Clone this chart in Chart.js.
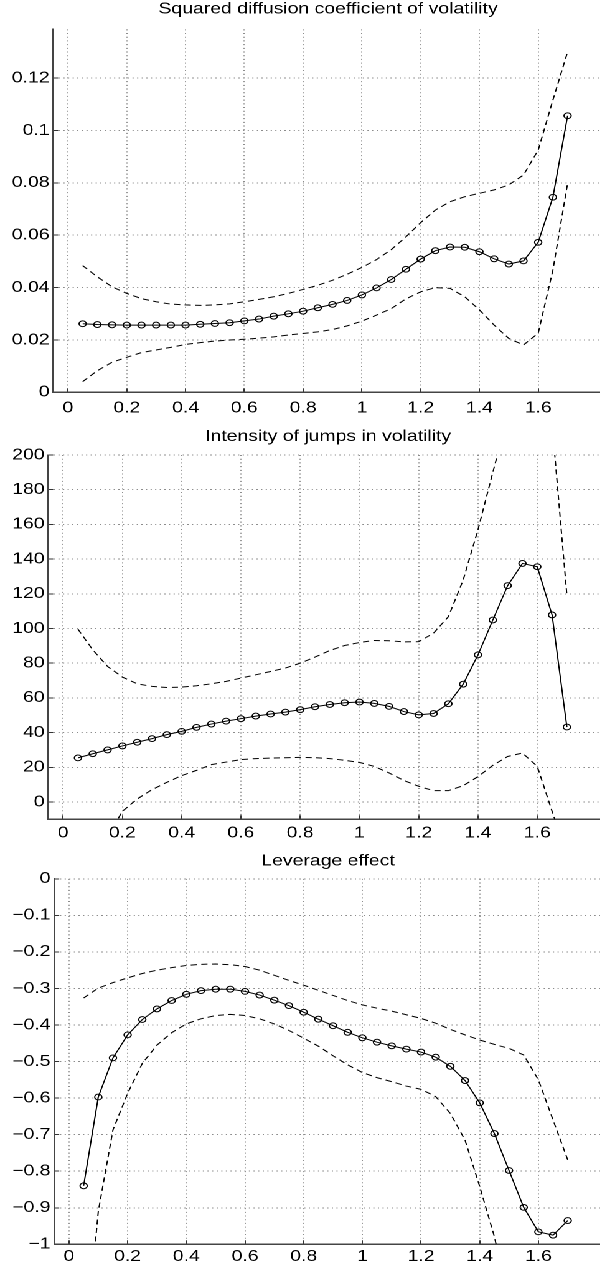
<!DOCTYPE html>
<html>
<head>
<meta charset="utf-8">
<title>Volatility estimates</title>
<script src="https://cdn.jsdelivr.net/npm/chart.js@4"></script>
<style>
body{ margin:0; background:#fff; }
/* the source figure is stretched sideways, so the charts are too */
#page{ width:600px; height:1267px; overflow:hidden; }
#stretch{ width:527px; transform:scaleX(1.245); transform-origin:0 0; }
.panel{ position:relative; width:527px; }
</style>
</head>
<body>

<div id="page">
<div id="stretch">
<div class="panel" style="height:421px"><canvas id="diffusionChart"></canvas></div>
<div class="panel" style="height:421px"><canvas id="jumpChart"></canvas></div>
<div class="panel" style="height:425px"><canvas id="leverageChart"></canvas></div>
</div>
</div>

<script>

// ---------- DATA ----------

const xValues = [0.05,0.1,0.15,0.2,0.25,0.3,0.35,0.4,0.45,0.5,0.55,0.6,0.65,0.7,0.75,0.8,0.85,
0.9,0.95,1,1.05,1.1,1.15,1.2,1.25,1.3,1.35,1.4,1.45,1.5,1.55,1.6,1.65,1.7];

const xTicks = [0,0.2,0.4,0.6,0.8,1,1.2,1.4,1.6];

// Squared diffusion coefficient
const diffusionEstimate = [0.0262,0.0259,0.0258,0.0257,0.0257,0.0257,0.0257,0.0257,0.0260,0.0263,0.0266,
0.0273,0.0280,0.0291,0.0300,0.0310,0.0323,0.0336,0.0351,0.0372,0.0399,0.0431,0.0470,0.0509,0.0541,
0.0555,0.0554,0.0537,0.0510,0.0490,0.0502,0.0573,0.0745,0.1056];

const diffusionUpper = [0.0484,0.0441,0.0403,0.0378,0.0358,0.0346,0.0337,0.0334,0.0332,0.0334,0.0338,
0.0346,0.0355,0.0365,0.0378,0.0393,0.0409,0.0428,0.0451,0.0477,0.0507,0.0545,0.0594,0.0648,0.0696,
0.0728,0.0747,0.0760,0.0773,0.0792,0.0830,0.0925,0.1116,0.1300];

const diffusionLower = [0.0041,0.0083,0.0115,0.0134,0.0152,0.0162,0.0172,0.0183,0.0190,0.0196,0.0200,
0.0203,0.0207,0.0212,0.0219,0.0225,0.0231,0.0240,0.0254,0.0272,0.0295,0.0320,0.0357,0.0384,0.0400,
0.0397,0.0365,0.0315,0.0257,0.0206,0.0181,0.0226,0.0467,0.0798];

const diffusionTicks = [0,0.02,0.04,0.06,0.08,0.1,0.12];

// Intensity of jumps
const jumpEstimate = [25.4,27.8,30.0,32.3,34.4,36.5,38.8,40.7,43.0,44.9,46.6,48.0,49.5,50.7,51.8,53.2,
54.9,56.2,57.2,57.6,56.8,55.1,52.1,50.2,51.0,56.6,67.9,84.8,104.9,124.7,137.5,135.6,107.8,43.2];

const jumpUpper = [99.6,87.7,78.1,72.0,68.1,66.6,66.0,66.2,67.0,68.1,69.5,71.4,73.3,75.2,77.2,80.0,
83.5,87.3,90.2,91.9,93.1,92.9,92.3,92.4,97.3,106.8,128,157,190,222,240,240,218,119];

const jumpLower = [-65,-40,-20,-5.4,1.7,7.1,11.3,15.2,18.2,21.5,23.0,24.4,25.0,25.3,25.5,25.7,25.5,
25.0,24.0,22.8,20.5,16.7,12.4,9.0,6.5,6.5,9.4,14.6,21.1,26.2,28.2,20.5,-5.4,-31];

const jumpTicks = [0,20,40,60,80,100,120,140,160,180,200];

// Leverage effect
const leverageEstimate = [-0.840,-0.597,-0.490,-0.427,-0.385,-0.356,-0.333,-0.316,-0.306,-0.302,-0.302,
-0.308,-0.318,-0.332,-0.347,-0.365,-0.384,-0.402,-0.420,-0.435,-0.447,-0.457,-0.466,-0.474,-0.488,
-0.513,-0.552,-0.613,-0.697,-0.798,-0.899,-0.966,-0.975,-0.935];

const leverageUpper = [-0.326,-0.299,-0.284,-0.271,-0.259,-0.250,-0.243,-0.237,-0.234,-0.233,-0.235,
-0.240,-0.250,-0.264,-0.278,-0.291,-0.305,-0.319,-0.333,-0.345,-0.354,-0.362,-0.372,-0.382,-0.395,
-0.412,-0.427,-0.441,-0.453,-0.464,-0.482,-0.550,-0.660,-0.769];

const leverageLower = [-1.34,-0.91,-0.687,-0.587,-0.505,-0.455,-0.421,-0.397,-0.383,-0.374,-0.371,
-0.374,-0.383,-0.397,-0.415,-0.436,-0.458,-0.484,-0.509,-0.530,-0.544,-0.555,-0.567,-0.576,-0.596,
-0.642,-0.715,-0.842,-0.979,-1.16,-1.4,-1.6,-1.7,-1.7];

const leverageTicks = [-1,-0.9,-0.8,-0.7,-0.6,-0.5,-0.4,-0.3,-0.2,-0.1,0];


// ---------- CHARTS ----------

const FONT = {family:"'Liberation Sans', Arial, sans-serif", size:15.6, weight:"normal"};

document.addEventListener("DOMContentLoaded", function(){

createPanel("diffusionChart", "Squared diffusion coefficient of volatility",
diffusionEstimate, diffusionUpper, diffusionLower, 0, 0.1386, diffusionTicks,
{titleTop:0, titleBottom:10.6, xHeight:28.6, xPad:6.2, yWidth:42.8});

createPanel("jumpChart", "Intensity of jumps in volatility",
jumpEstimate, jumpUpper, jumpLower, -10, 200, jumpTicks,
{titleTop:6.1, titleBottom:9.2, xHeight:22.7, xPad:4.6, yWidth:38.8});

createPanel("leverageChart", "Leverage effect",
leverageEstimate, leverageUpper, leverageLower, -1, 0, leverageTicks,
{titleTop:9.9, titleBottom:8.2, xHeight:22.7, xPad:3, yWidth:43.6});

});


// Pair each value with its x position
function points(values){

return values.map((v, i) => ({x: xValues[i], y: v}));

}


// MATLAB style labels use a real minus sign
function tickLabel(v){

return String(v).replace("-", "\u2212");

}


function bandLine(values){

return {
data: points(values),
borderColor: "#000",
borderWidth: 1,
borderDash: [5, 3.5],
pointRadius: 0,
tension: 0
};

}


// Dotted grid, with short tick marks pointing into the plot (negative length)
function gridLines(tickLength){

return {color: "#8c8c8c", lineWidth: 1, drawTicks: true, tickLength: tickLength,
tickColor: "#333", tickWidth: 1};

}


function createPanel(id, title, estimate, upper, lower, yMin, yMax, yTicks, box){

const axisLine = {color: "#444", width: 1.5, dash: [1, 2.7]};

new Chart(document.getElementById(id), {

type: "line",

data: {
datasets: [
{
data: points(estimate),
borderColor: "#000",
borderWidth: 1,
tension: 0,
pointRadius: 2.9,
pointBorderWidth: 1,
pointBorderColor: "#000",
pointBackgroundColor: "rgba(0,0,0,0)"
},
bandLine(upper),
bandLine(lower)
]
},

options: {
responsive: true,
maintainAspectRatio: false,
animation: false,
devicePixelRatio: 2,
events: [],
layout: {padding: 0},
plugins: {
legend: {display: false},
tooltip: {enabled: false},
title: {
display: true,
text: title,
color: "#000",
font: FONT,
padding: {top: box.titleTop, bottom: box.titleBottom}
}
},
scales: {
x: {
type: "linear",
min: -0.05,
max: 1.98,
afterBuildTicks: s => { s.ticks = xTicks.map(v => ({value: v})); },
afterFit: s => { s.height = box.xHeight; },
ticks: {color: "#000", font: FONT, padding: box.xPad + 4, maxRotation: 0, autoSkip: false,
callback: v => tickLabel(v)},
grid: gridLines(-4),
border: axisLine
},
y: {
type: "linear",
min: yMin,
max: yMax,
afterBuildTicks: s => { s.ticks = yTicks.map(v => ({value: v})); },
afterFit: s => { s.width = box.yWidth; },
ticks: {color: "#000", font: FONT, padding: 3 + 4, autoSkip: false,
callback: v => tickLabel(v)},
grid: gridLines(-4),
border: axisLine
}
}
}

});

}

</script>
</body>
</html>
